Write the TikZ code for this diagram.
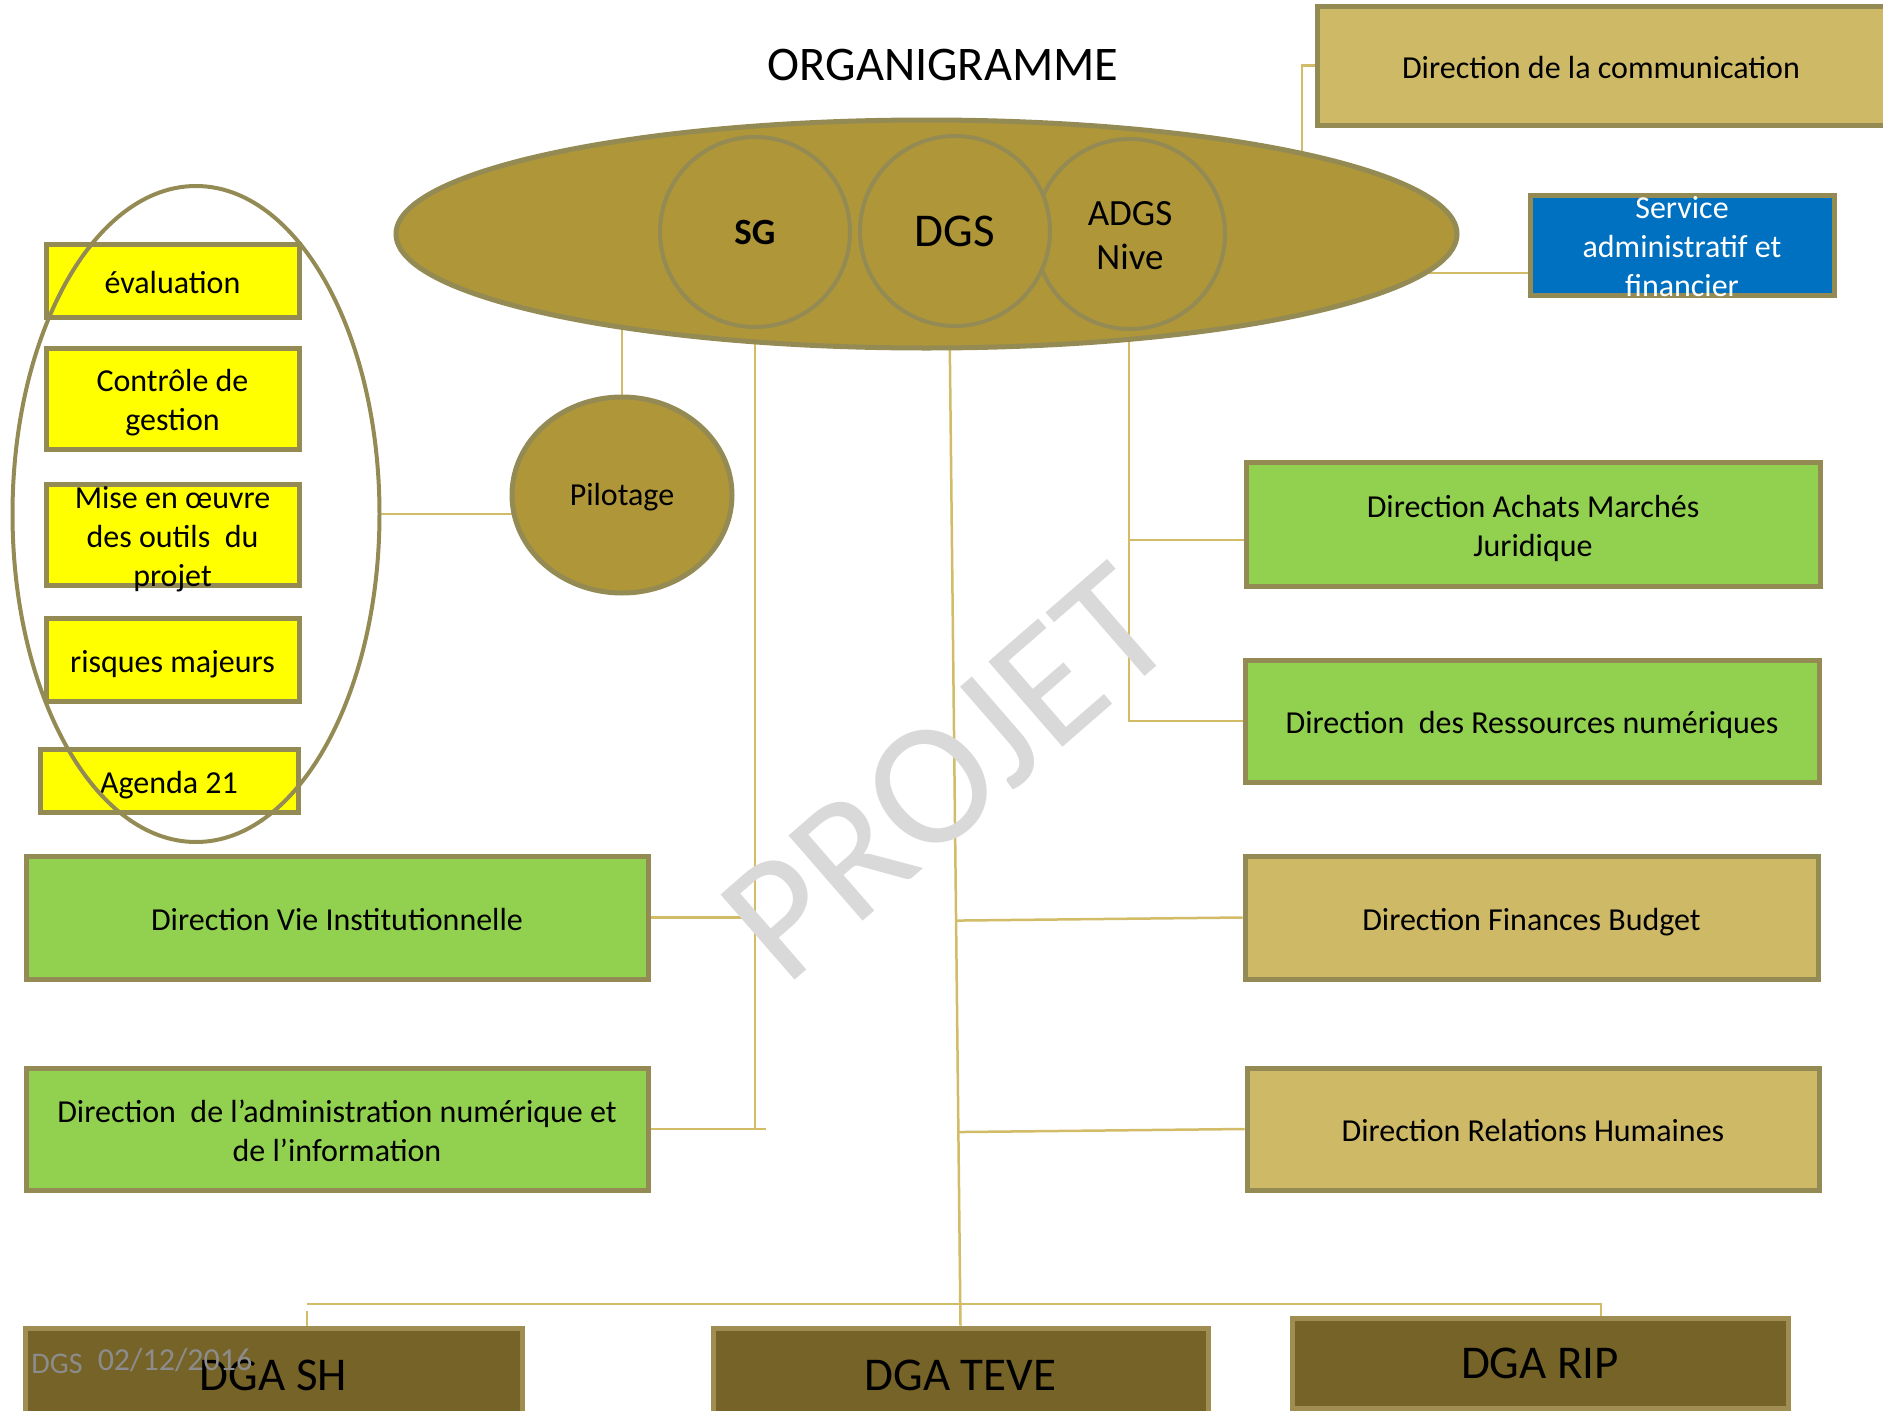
\documentclass[tikz,border=0pt]{standalone}
\usepackage{fontspec}
\setmainfont{Carlito}
\usetikzlibrary{shapes.geometric,calc}
\definecolor{olive}{HTML}{AE9639}
\definecolor{bord}{HTML}{948A54}
\definecolor{tanc}{HTML}{CDB966}
\definecolor{grn}{HTML}{92D050}
\definecolor{yel}{HTML}{FFFF00}
\definecolor{blu}{HTML}{0070C0}
\definecolor{dgafill}{HTML}{766328}
\definecolor{dgabord}{HTML}{A08D52}
\definecolor{connc}{HTML}{D2BC68}
\definecolor{wmgray}{HTML}{D9D9D9}
\definecolor{footgray}{HTML}{8C8C8C}
\newcommand\bst{\rule[-6.8pt]{0pt}{39pt}}
\newcommand\bstm{\rule[-2.8pt]{0pt}{56pt}}
\pgfdeclarelayer{bg}\pgfdeclarelayer{wmk}\pgfsetlayers{bg,wmk,main}
\begin{document}
\begin{tikzpicture}[x=1pt,y=-1pt,
  txt/.style={font=\fontsize{32}{39}\selectfont, align=center, inner sep=0pt, execute at begin node=\bst, execute at end node=\bst},
  txtm/.style={font=\fontsize{32}{39}\selectfont, align=center, inner sep=0pt, execute at begin node=\bstm, execute at end node=\bst, yshift=-5pt},
  rbox/.style={rectangle, draw=bord, line width=5pt, inner sep=0pt},
  greenbox/.style={rbox, fill=grn, label={[txt]center:{#1}}},
  greenboxm/.style={rbox, fill=grn, label={[txtm]center:{#1}}},
  tanbox/.style={rbox, fill=tanc, label={[txt]center:{#1}}},
  yelbox/.style={rbox, fill=yel, minimum width=253, label={[txt]center:{#1}}},
  yelboxm/.style={rbox, fill=yel, minimum width=253, label={[txtm]center:{#1}}},
  dgabox/.style={rectangle, fill=dgafill, draw=dgabord, line width=5pt, inner sep=0pt, minimum width=496,
     label={[font=\fontsize{47}{56}\selectfont, inner sep=0pt]center:{#1}}},
  circ/.style={circle, fill=olive, draw=bord, line width=4pt, minimum size=190, inner sep=0pt},
  cline/.style={draw=connc, line width=2.5pt}
]
\useasboundingbox (0,0) rectangle (1883,1411);

% title
\node[font=\fontsize{48.3}{58}\selectfont, inner sep=0pt] (title) at (943,64.5) {ORGANIGRAMME};

% top group
\node[ellipse, fill=olive, draw=bord, line width=5pt, minimum width=1061, minimum height=228, inner sep=0pt] (bigell) at (926.5,234) {};
\node[circ, font=\bfseries\fontsize{37}{44}\selectfont] (sg) at (755,232) {SG};
\node[circ, label={[font=\fontsize{37}{44.5}\selectfont, align=center, inner sep=0pt, yshift=-1.5pt]center:{ADGS\\Nive}}] (adgs) at (1130,234) {};
\node[circ, font=\fontsize{47}{56}\selectfont] (dgs) at (955,231) {DGS};

\node[rbox, fill=tanc, minimum width=568, minimum height=119, label={[txt]center:{Direction de la communication}}] (comm) at (1601,65.5) {};
\node[rbox, fill=blu, minimum width=304, minimum height=100, label={[txtm,text=white]center:{Service\\administratif et\\financier}}] (svc) at (1682,245) {};

% pilotage
\node[ellipse, fill=olive, draw=bord, line width=5pt, minimum width=220, minimum height=196, inner sep=0pt, font=\fontsize{32}{39}\selectfont, text height=27pt, text depth=7pt] (pilot) at (622,495) {Pilotage};

% yellow boxes
\node[yelbox={évaluation}, minimum height=73] (eval) at (172.5,280.5) {};
\node[yelboxm={Contrôle de\\gestion}, minimum height=101] (ctrl) at (172.5,398.5) {};
\node[yelboxm={Mise en œuvre\\des outils\ \ du\\projet}, minimum height=101] (mise) at (172.5,534.5) {};
\node[yelbox={risques majeurs}, minimum height=83] (risq) at (172.5,659.5) {};
\node[yelbox={Agenda 21}, minimum width=258, minimum height=63] (agenda) at (169,780.5) {};
\node[ellipse, draw=bord, line width=4pt, minimum width=367, minimum height=656, inner sep=0pt] (leftell) at (196,514) {};

% right boxes
\node[greenboxm={Direction Achats Marchés\\Juridique}, minimum width=574, minimum height=124] (achats) at (1533,524) {};
\node[greenbox={Direction\ \ des Ressources numériques}, minimum width=574, minimum height=122] (ress) at (1532,721) {};
\node[tanbox={Direction Finances Budget}, minimum width=573, minimum height=123] (fin) at (1531.5,917.5) {};
\node[tanbox={Direction Relations Humaines}, minimum width=572, minimum height=122] (rh) at (1533,1129) {};

% left boxes
\node[greenbox={Direction Vie Institutionnelle}, minimum width=622, minimum height=123] (vie) at (337,917.5) {};
\node[greenboxm={Direction\ \ de l’administration numérique et\\de l’information}, minimum width=622, minimum height=122] (adm) at (337,1129) {};

% DGA boxes
\node[dgabox={DGA SH}, minimum width=497, minimum height=94] (sh) at (273.5,1375) {};
\node[dgabox={DGA TEVE}, minimum width=495, minimum height=94] (teve) at (960.5,1375) {};
\node[dgabox={DGA RIP}, minimum height=90] (rip) at (1540,1363) {};

% footer
\node[font=\fontsize{30}{36}\selectfont, text=footgray, anchor=base, inner sep=0pt] (fdgs) at (57,1373) {DGS};
\node[font=\fontsize{32}{38}\selectfont, text=footgray, anchor=base, inner sep=0pt] (fdate) at (175,1370) {02/12/2016};

% connectors
\coordinate (cA) at (1302,234);
\coordinate (cB) at (1300,273);
\coordinate (dgsfoot) at (949.5,320);
\coordinate (adgsfoot) at (1129,320);
\coordinate (achy) at (1129,540);
\coordinate (busL) at (307,1304);
\coordinate (busR) at (1601,1304);
\coordinate (stub) at (307,1311);

\begin{pgfonlayer}{wmk}
\node[font=\fontsize{176}{200}\selectfont, text=wmgray, rotate=41, anchor=base, inner sep=0pt] (wm) at (984,816) {PROJET};
\end{pgfonlayer}

\begin{pgfonlayer}{bg}
\draw[cline] (comm.west) -| (cA);
\draw[cline] (cB) -- (cB -| svc.west);
\draw[cline] (leftell.east) -- (leftell.east -| pilot.center);
\draw[cline] (pilot.center) -- (pilot.center |- bigell.center);
\draw[cline] (sg.center) -- (sg.center |- adm.east);
\draw[cline] (adm.east) -- ++(115,0);
\draw[cline] (vie.east) -- (vie.east -| sg.center);
\draw[cline] (dgsfoot) -- (teve.north);
\draw[cline] ($(dgsfoot)!(fin.west)!(teve.north)$) -- (fin.west);
\draw[cline] ($(dgsfoot)!(rh.west)!(teve.north)$) -- (rh.west);
\draw[cline] (adgsfoot) -- (adgsfoot |- ress.west) -- (ress.west);
\draw[cline] (achy) -- (achy -| achats.west);
\draw[cline] (busL) -- (busR) -- (busR |- rip.north);
\draw[cline] (stub) -- (stub |- sh.north);
\end{pgfonlayer}
\end{tikzpicture}
\end{document}
